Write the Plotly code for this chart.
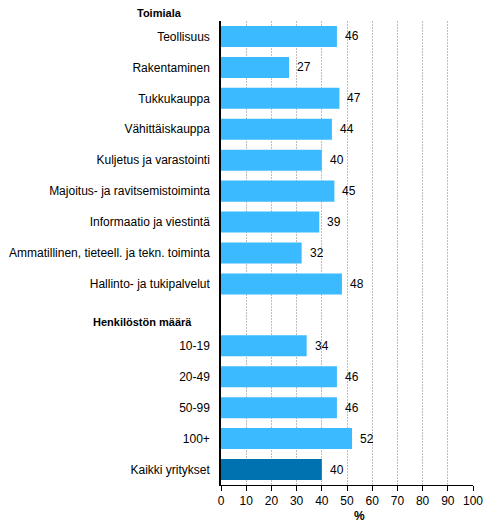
import plotly.graph_objects as go

toimiala = ["Teollisuus", "Rakentaminen", "Tukkukauppa", "Vähittäiskauppa",
            "Kuljetus ja varastointi", "Majoitus- ja ravitsemistoiminta",
            "Informaatio ja viestintä", "Ammatillinen, tieteell. ja tekn. toiminta",
            "Hallinto- ja tukipalvelut"]
toimiala_values = [46, 27, 47, 44, 40, 45, 39, 32, 48]
koko = ["10-19", "20-49", "50-99", "100+"]
koko_values = [34, 46, 46, 52]
total_label = ["Kaikki yritykset"]
total_values = [40]
headers = ["Toimiala", "Henkilöstön määrä"]
x_ticks = list(range(0, 101, 10))
x_title = "%"

LIGHT = "#3BBAFF"
DARK = "#0072B0"

labels = toimiala + [""] + koko + total_label
values = toimiala_values + [None] + koko_values + total_values
pos = list(range(1, len(labels) + 1))
colors = [LIGHT] * (len(toimiala) + 1 + len(koko)) + [DARK]

bar_pos = [p for p, v in zip(pos, values) if v is not None]
bar_vals = [v for v in values if v is not None]
bar_cols = [c for c, v in zip(colors, values) if v is not None]

fig = go.Figure()
fig.add_trace(go.Bar(
    x=bar_vals, y=bar_pos, orientation="h",
    marker=dict(color=bar_cols, line=dict(width=0)),
    width=0.68, hoverinfo="skip",
))

for p, v in zip(bar_pos, bar_vals):
    fig.add_annotation(x=v, y=p, xref="x", yref="y", text=str(v),
                       showarrow=False, xanchor="left", xshift=6,
                       font=dict(family="Liberation Sans, Arial", size=12, color="#000"))

n_slots = len(labels)
header_pos = [0, len(toimiala) + 1]
header_x = [-0.246, -0.31]
for h, p, hx in zip(headers, header_pos, header_x):
    py = 1 - (p - 0.5) / n_slots
    fig.add_annotation(x=hx, y=py, xref="paper", yref="paper", text="<b>" + h + "</b>",
                       showarrow=False, xanchor="center", yanchor="middle", yshift=-7,
                       font=dict(family="Liberation Sans, Arial", size=11, color="#000"))

# axis title, placed slightly right of centre as in the reference
fig.add_annotation(x=0.55, y=0, xref="paper", yref="paper", text="<b>" + x_title + "</b>",
                   showarrow=False, xanchor="center", yanchor="top", yshift=-22,
                   font=dict(family="Liberation Sans, Arial", size=12, color="#000"))

# the page body has an 8px margin; compensate so the chart sits like the reference
OFF = 8
fig.update_layout(
    width=491 - OFF, height=529 - OFF,
    margin=dict(l=221 - OFF, r=18, t=20.5 - OFF, b=43.5),
    paper_bgcolor="white", plot_bgcolor="white",
    showlegend=False,
    font=dict(family="Liberation Sans, Arial", size=12, color="#000"),
    xaxis=dict(
        range=[0, 100], tickvals=x_ticks, ticks="outside", ticklen=5,
        tickcolor="#000", showline=True, linecolor="#000", linewidth=1,
        showgrid=True, gridcolor="#BDBDBD", griddash="2px,1px", gridwidth=1,
        zeroline=False, fixedrange=True, automargin=False,
    ),
    yaxis=dict(
        range=[n_slots + 0.5, 0.5], tickvals=pos, ticktext=labels,
        showline=True, linecolor="#000", linewidth=1.5, showgrid=False,
        zeroline=False, ticks="outside", ticklen=7, tickcolor="rgba(0,0,0,0)",
        fixedrange=True, automargin=False,
    ),
)

fig.write_html("out.html")
